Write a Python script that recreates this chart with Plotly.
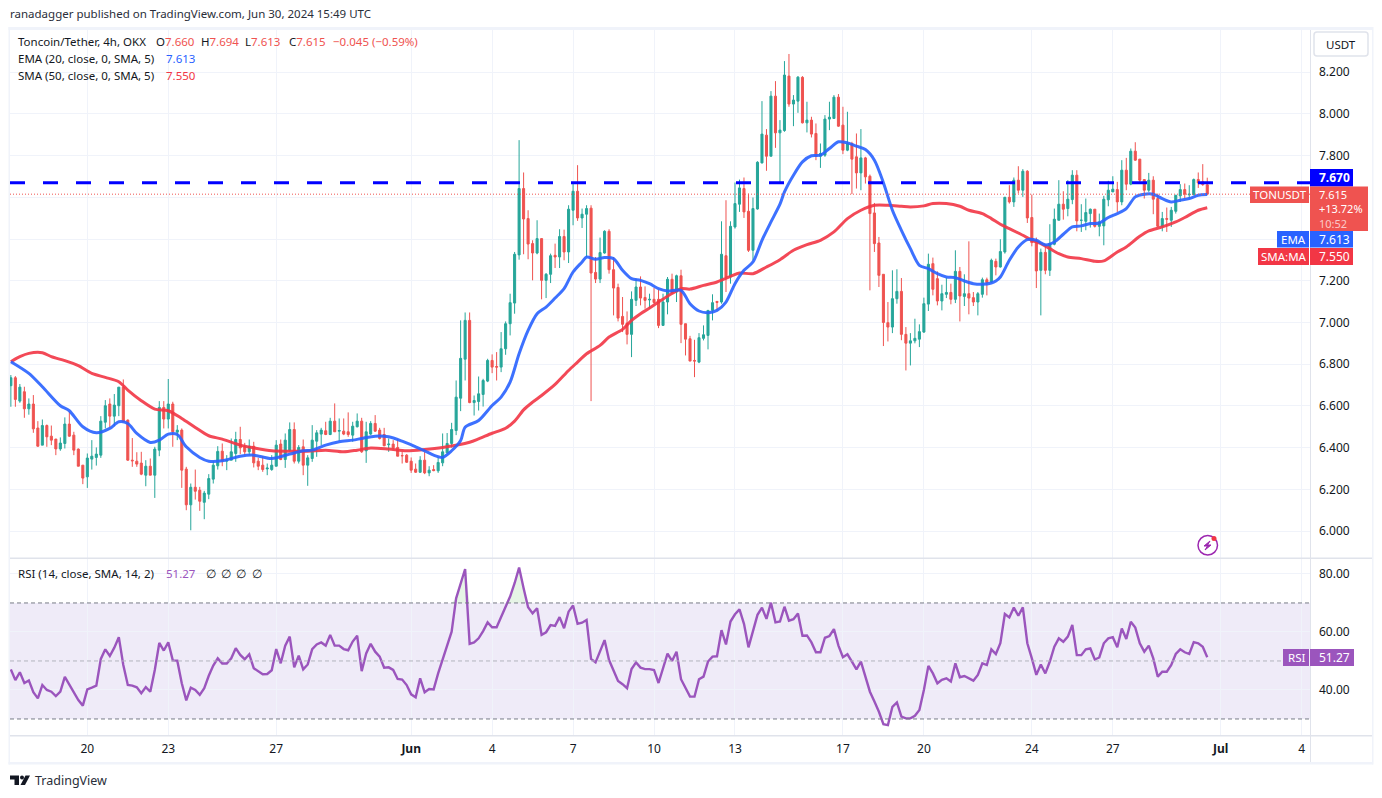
import numpy as np
import pandas as pd
import plotly.graph_objects as go

W, H = 1382, 798

# 4h candles
opens = [
    6.697, 6.735, 6.623, 6.668, 6.586, 6.609, 6.494, 6.412, 6.506, 6.455,
    6.441, 6.394, 6.420, 6.513, 6.460, 6.393, 6.316, 6.260, 6.345, 6.353,
    6.364, 6.522, 6.609, 6.551, 6.601, 6.690, 6.532, 6.340, 6.335, 6.326,
    6.268, 6.311, 6.268, 6.388, 6.593, 6.537, 6.609, 6.474, 6.484, 6.297,
    6.126, 6.210, 6.196, 6.138, 6.177, 6.249, 6.313, 6.383, 6.335, 6.340,
    6.372, 6.439, 6.404, 6.380, 6.407, 6.335, 6.316, 6.298, 6.295, 6.311,
    6.417, 6.343, 6.388, 6.487, 6.335, 6.404, 6.316, 6.348, 6.431, 6.465,
    6.481, 6.463, 6.527, 6.479, 6.479, 6.476, 6.460, 6.500, 6.527, 6.385,
    6.465, 6.516, 6.484, 6.463, 6.414, 6.417, 6.401, 6.362, 6.364, 6.335,
    6.297, 6.282, 6.340, 6.279, 6.295, 6.289, 6.327, 6.375, 6.420, 6.482,
    6.637, 6.824, 7.010, 6.616, 6.621, 6.655, 6.719, 6.818, 6.789, 6.786,
    6.874, 6.994, 7.093, 7.324, 7.642, 7.498, 7.378, 7.333, 7.402, 7.202,
    7.231, 7.322, 7.314, 7.412, 7.338, 7.538, 7.629, 7.501, 7.519, 7.548,
    7.240, 7.208, 7.333, 7.437, 7.253, 7.168, 7.029, 6.997, 6.943, 7.106,
    7.170, 7.120, 7.108, 7.111, 7.111, 6.986, 7.098, 7.207, 7.146, 7.224,
    6.994, 6.922, 6.818, 6.810, 6.924, 6.938, 7.058, 7.101, 7.098, 7.320,
    7.218, 7.458, 7.567, 7.642, 7.533, 7.346, 7.544, 7.765, 7.898, 7.797,
    8.085, 7.909, 7.920, 8.181, 8.047, 8.061, 8.175, 7.957, 7.970, 7.906,
    7.797, 7.802, 7.975, 7.978, 8.080, 7.946, 7.826, 7.858, 7.794, 7.717,
    7.789, 7.701, 7.525, 7.381, 7.231, 6.999, 6.978, 7.114, 7.149, 6.943,
    6.901, 6.912, 6.920, 6.954, 7.088, 7.282, 7.210, 7.103, 7.135, 7.144,
    7.111, 7.245, 7.125, 7.138, 7.119, 7.098, 7.135, 7.205, 7.194, 7.293,
    7.266, 7.338, 7.600, 7.578, 7.682, 7.634, 7.725, 7.503, 7.389, 7.250,
    7.336, 7.250, 7.375, 7.490, 7.567, 7.546, 7.589, 7.706, 7.490, 7.485,
    7.522, 7.543, 7.461, 7.463, 7.588, 7.626, 7.637, 7.578, 7.730, 7.663,
    7.821, 7.783, 7.685, 7.634, 7.682, 7.594, 7.461, 7.498, 7.490, 7.533,
    7.607, 7.637, 7.612, 7.613, 7.685, 7.674, 7.660,
]
highs = [
    6.748, 6.743, 6.705, 6.692, 6.636, 6.652, 6.527, 6.535, 6.511, 6.506,
    6.442, 6.449, 6.545, 6.572, 6.476, 6.396, 6.316, 6.372, 6.436, 6.401,
    6.551, 6.628, 6.636, 6.657, 6.690, 6.727, 6.535, 6.446, 6.378, 6.380,
    6.340, 6.348, 6.404, 6.623, 6.623, 6.729, 6.620, 6.508, 6.492, 6.308,
    6.228, 6.295, 6.212, 6.193, 6.273, 6.335, 6.407, 6.420, 6.364, 6.444,
    6.476, 6.500, 6.423, 6.439, 6.428, 6.351, 6.359, 6.324, 6.364, 6.436,
    6.439, 6.468, 6.521, 6.521, 6.412, 6.439, 6.364, 6.508, 6.484, 6.495,
    6.524, 6.543, 6.612, 6.540, 6.540, 6.569, 6.524, 6.564, 6.543, 6.524,
    6.527, 6.556, 6.495, 6.495, 6.444, 6.436, 6.441, 6.380, 6.369, 6.353,
    6.324, 6.359, 6.380, 6.311, 6.316, 6.353, 6.468, 6.470, 6.519, 6.722,
    7.010, 7.048, 7.048, 6.650, 6.741, 6.730, 6.826, 6.847, 6.858, 6.954,
    7.005, 7.138, 7.338, 7.874, 7.719, 7.538, 7.394, 7.490, 7.402, 7.237,
    7.330, 7.378, 7.447, 7.445, 7.562, 7.666, 7.754, 7.546, 7.562, 7.562,
    7.314, 7.407, 7.442, 7.447, 7.314, 7.186, 7.122, 7.053, 7.149, 7.210,
    7.221, 7.173, 7.138, 7.165, 7.157, 7.138, 7.218, 7.234, 7.229, 7.253,
    6.994, 6.936, 6.917, 6.949, 6.986, 7.058, 7.135, 7.103, 7.485, 7.586,
    7.485, 7.671, 7.685, 7.695, 7.618, 7.599, 7.773, 8.061, 7.927, 8.109,
    8.157, 7.970, 8.253, 8.287, 8.090, 8.181, 8.181, 8.058, 7.986, 7.954,
    7.858, 7.994, 8.058, 8.090, 8.095, 8.034, 8.010, 7.866, 7.906, 7.927,
    7.794, 7.709, 7.573, 7.410, 7.231, 7.098, 7.250, 7.255, 7.213, 6.978,
    6.949, 7.018, 6.991, 7.119, 7.330, 7.311, 7.245, 7.181, 7.215, 7.186,
    7.346, 7.266, 7.231, 7.389, 7.146, 7.146, 7.215, 7.215, 7.306, 7.306,
    7.399, 7.602, 7.658, 7.695, 7.749, 7.735, 7.730, 7.613, 7.407, 7.354,
    7.367, 7.471, 7.546, 7.682, 7.629, 7.682, 7.730, 7.730, 7.567, 7.594,
    7.546, 7.543, 7.522, 7.607, 7.679, 7.701, 7.674, 7.778, 7.789, 7.834,
    7.864, 7.783, 7.685, 7.717, 7.701, 7.618, 7.530, 7.551, 7.554, 7.610,
    7.663, 7.666, 7.658, 7.690, 7.719, 7.759, 7.694,
]
lows = [
    6.596, 6.596, 6.615, 6.543, 6.558, 6.471, 6.404, 6.412, 6.404, 6.412,
    6.364, 6.385, 6.396, 6.452, 6.364, 6.311, 6.225, 6.207, 6.295, 6.314,
    6.351, 6.492, 6.497, 6.503, 6.551, 6.524, 6.337, 6.308, 6.308, 6.268,
    6.215, 6.268, 6.159, 6.359, 6.492, 6.492, 6.404, 6.436, 6.207, 6.100,
    6.004, 6.151, 6.097, 6.057, 6.153, 6.228, 6.295, 6.311, 6.292, 6.340,
    6.332, 6.369, 6.364, 6.364, 6.305, 6.292, 6.284, 6.268, 6.289, 6.311,
    6.340, 6.303, 6.380, 6.324, 6.324, 6.268, 6.217, 6.332, 6.356, 6.412,
    6.460, 6.460, 6.476, 6.431, 6.460, 6.452, 6.428, 6.497, 6.375, 6.327,
    6.460, 6.476, 6.439, 6.407, 6.380, 6.391, 6.359, 6.324, 6.327, 6.279,
    6.279, 6.279, 6.273, 6.263, 6.287, 6.279, 6.311, 6.372, 6.400, 6.460,
    6.575, 6.722, 6.613, 6.554, 6.578, 6.597, 6.714, 6.757, 6.722, 6.762,
    6.845, 6.938, 7.042, 7.301, 7.327, 7.303, 7.202, 7.327, 7.111, 7.117,
    7.189, 7.261, 7.261, 7.298, 7.285, 7.466, 7.487, 7.453, 7.314, 6.623,
    7.189, 7.189, 7.330, 7.234, 7.034, 7.005, 6.954, 6.895, 6.834, 7.079,
    7.082, 7.066, 7.066, 7.090, 6.973, 6.986, 7.039, 7.138, 7.098, 6.901,
    6.842, 6.815, 6.738, 6.805, 6.914, 6.871, 7.010, 7.058, 7.090, 7.146,
    7.186, 7.450, 7.530, 7.501, 7.338, 7.298, 7.541, 7.762, 7.727, 7.797,
    7.837, 7.666, 7.914, 8.034, 7.941, 8.005, 7.954, 7.911, 7.887, 7.778,
    7.741, 7.794, 7.922, 7.978, 7.938, 7.807, 7.821, 7.615, 7.642, 7.634,
    7.666, 7.154, 7.338, 7.170, 6.887, 6.909, 6.949, 7.090, 6.915, 6.770,
    6.794, 6.900, 6.882, 6.950, 7.055, 7.130, 7.082, 7.058, 7.117, 7.087,
    7.093, 7.005, 7.079, 7.039, 7.079, 7.034, 7.119, 7.130, 7.189, 7.226,
    7.263, 7.330, 7.570, 7.554, 7.618, 7.602, 7.477, 7.365, 7.165, 7.034,
    7.231, 7.223, 7.370, 7.490, 7.493, 7.509, 7.567, 7.437, 7.434, 7.442,
    7.455, 7.455, 7.413, 7.370, 7.557, 7.626, 7.530, 7.562, 7.634, 7.658,
    7.775, 7.674, 7.594, 7.626, 7.519, 7.458, 7.437, 7.434, 7.458, 7.522,
    7.578, 7.594, 7.594, 7.610, 7.645, 7.655, 7.613,
]
closes = [
    6.735, 6.631, 6.690, 6.586, 6.609, 6.490, 6.407, 6.506, 6.452, 6.436,
    6.394, 6.422, 6.513, 6.455, 6.388, 6.311, 6.254, 6.350, 6.359, 6.369,
    6.527, 6.601, 6.551, 6.604, 6.690, 6.524, 6.340, 6.337, 6.321, 6.273,
    6.311, 6.268, 6.393, 6.593, 6.537, 6.609, 6.476, 6.484, 6.292, 6.126,
    6.210, 6.191, 6.143, 6.182, 6.252, 6.316, 6.382, 6.337, 6.339, 6.380,
    6.439, 6.399, 6.380, 6.407, 6.327, 6.311, 6.295, 6.302, 6.316, 6.412,
    6.343, 6.436, 6.487, 6.335, 6.401, 6.316, 6.351, 6.436, 6.471, 6.484,
    6.463, 6.527, 6.476, 6.482, 6.465, 6.463, 6.503, 6.527, 6.380, 6.476,
    6.516, 6.479, 6.444, 6.409, 6.417, 6.399, 6.359, 6.361, 6.330, 6.292,
    6.282, 6.340, 6.279, 6.292, 6.290, 6.329, 6.380, 6.420, 6.487, 6.642,
    6.828, 7.010, 6.616, 6.626, 6.658, 6.722, 6.818, 6.786, 6.786, 6.874,
    6.994, 7.095, 7.327, 7.642, 7.496, 7.376, 7.333, 7.402, 7.202, 7.231,
    7.320, 7.314, 7.412, 7.338, 7.543, 7.629, 7.501, 7.519, 7.546, 7.237,
    7.208, 7.335, 7.437, 7.253, 7.165, 7.021, 6.991, 6.943, 7.111, 7.170,
    7.117, 7.106, 7.111, 7.096, 6.986, 7.098, 7.207, 7.143, 7.224, 6.991,
    6.920, 6.815, 6.815, 6.927, 6.941, 7.058, 7.095, 7.096, 7.327, 7.218,
    7.461, 7.570, 7.645, 7.530, 7.346, 7.546, 7.768, 7.903, 7.797, 8.085,
    7.909, 7.922, 8.186, 8.047, 8.066, 8.176, 7.957, 7.970, 7.903, 7.797,
    7.810, 7.975, 7.984, 8.080, 7.941, 7.826, 7.858, 7.783, 7.717, 7.789,
    7.698, 7.522, 7.378, 7.226, 7.000, 6.978, 7.114, 7.149, 6.943, 6.901,
    6.912, 6.924, 6.956, 7.090, 7.279, 7.159, 7.103, 7.138, 7.144, 7.111,
    7.245, 7.127, 7.138, 7.117, 7.098, 7.138, 7.205, 7.191, 7.298, 7.266,
    7.340, 7.600, 7.578, 7.682, 7.634, 7.725, 7.501, 7.383, 7.247, 7.336,
    7.250, 7.378, 7.495, 7.567, 7.543, 7.591, 7.706, 7.487, 7.490, 7.527,
    7.543, 7.461, 7.482, 7.591, 7.634, 7.639, 7.578, 7.730, 7.663, 7.821,
    7.778, 7.682, 7.634, 7.682, 7.591, 7.461, 7.498, 7.495, 7.538, 7.610,
    7.637, 7.615, 7.615, 7.685, 7.669, 7.661, 7.615,
]
rsi = [
    47.1, 43.4, 46.1, 42.4, 43.3, 39.2, 37.1, 41.7, 40.0, 39.4,
    37.9, 39.4, 44.5, 41.7, 39.4, 36.5, 34.6, 40.2, 40.8, 41.5,
    50.7, 54.0, 51.7, 54.6, 58.2, 48.6, 41.7, 41.5, 40.9, 38.9,
    41.0, 39.4, 46.9, 56.2, 53.6, 56.4, 50.2, 50.1, 42.3, 36.4,
    40.8, 40.0, 38.3, 40.6, 44.9, 48.4, 50.9, 49.1, 49.1, 50.9,
    54.4, 52.1, 50.6, 52.3, 47.5, 46.3, 45.4, 45.5, 46.8, 54.1,
    49.2, 55.3, 58.4, 47.8, 51.8, 47.1, 48.8, 54.1, 55.7, 56.4,
    55.3, 59.0, 55.3, 55.3, 54.1, 53.7, 56.7, 58.7, 46.5, 52.6,
    55.9, 53.2, 51.5, 47.7, 47.8, 46.9, 43.8, 43.6, 41.7, 38.5,
    37.5, 44.0, 39.2, 40.3, 40.2, 45.7, 50.3, 54.9, 60.1, 71.6,
    77.1, 81.7, 55.9, 56.4, 57.8, 60.3, 63.3, 61.6, 61.6, 65.3,
    68.7, 72.2, 76.8, 82.2, 75.1, 68.5, 66.4, 68.2, 59.0, 59.9,
    62.4, 62.1, 65.1, 61.3, 67.0, 69.1, 62.8, 63.2, 64.1, 50.7,
    49.5, 53.6, 57.2, 50.3, 46.9, 43.1, 42.0, 40.6, 47.2, 49.5,
    47.7, 47.2, 47.2, 46.9, 42.4, 47.5, 52.5, 50.0, 53.2, 43.7,
    40.8, 37.7, 37.7, 43.7, 44.6, 49.8, 51.5, 51.6, 60.6, 55.7,
    63.6, 66.1, 67.8, 62.8, 54.7, 60.1, 65.9, 68.4, 64.5, 70.1,
    63.3, 63.6, 68.7, 63.9, 64.4, 66.4, 58.7, 58.8, 56.4, 53.0,
    53.0, 58.0, 58.6, 61.0, 55.3, 51.3, 52.3, 49.8, 47.1, 49.8,
    44.6, 39.4, 36.0, 32.5, 28.2, 27.9, 34.2, 35.7, 30.8, 30.2,
    30.2, 31.1, 33.1, 40.0, 48.3, 45.7, 42.3, 43.5, 44.0, 42.9,
    49.2, 44.4, 44.8, 44.0, 43.2, 45.2, 49.2, 48.6, 54.0, 52.4,
    56.1, 66.2, 65.0, 68.4, 65.6, 68.5, 56.1, 50.9, 45.2, 48.8,
    45.7, 49.8, 54.9, 57.8, 56.6, 58.4, 62.4, 52.0, 52.0, 54.0,
    54.3, 50.5, 51.2, 56.1, 57.8, 58.2, 54.7, 61.2, 57.6, 63.5,
    61.5, 56.1, 53.2, 55.3, 50.9, 44.6, 46.3, 46.3, 48.6, 52.4,
    54.0, 53.0, 52.4, 56.5, 56.1, 54.9, 51.27,
]

# moving averages, read at every few bars (bar number, value)
ema_bars = [
    0, 4, 7, 11, 13, 16, 19, 22, 24, 26, 28, 31, 33, 35, 37, 39, 42, 44, 47,
    51, 54, 58, 62, 65, 67, 70, 73, 76, 78, 81, 84, 87, 90, 92, 94, 96, 98,
    100, 101, 104, 107, 109, 111, 113, 115, 117, 119, 121, 123, 125, 127, 128,
    130, 132, 134, 136, 138, 140, 142, 144, 146, 149, 151, 153, 155, 157, 159,
    161, 163, 165, 167, 169, 171, 172, 174, 176, 178, 180, 182, 184, 186, 188,
    190, 192, 194, 196, 198, 200, 202, 204, 206, 208, 210, 212, 214, 216, 218,
    219, 220, 222, 224, 226, 228, 230, 232, 234, 236, 238, 240, 242, 244, 246,
    248, 250, 252, 254, 256, 258, 260, 262, 264, 266,
]
ema_vals = [
    6.812, 6.756, 6.692, 6.601, 6.577, 6.500, 6.471, 6.492, 6.524, 6.516, 6.468,
    6.425, 6.436, 6.465, 6.463, 6.404, 6.353, 6.335, 6.337, 6.359, 6.364, 6.348,
    6.369, 6.385, 6.388, 6.412, 6.428, 6.436, 6.444, 6.455, 6.452, 6.431, 6.404,
    6.385, 6.364, 6.353, 6.385, 6.434, 6.498, 6.530, 6.602, 6.642, 6.714, 6.850,
    6.962, 7.042, 7.074, 7.117, 7.162, 7.242, 7.290, 7.314, 7.303, 7.311, 7.306,
    7.250, 7.210, 7.202, 7.186, 7.162, 7.151, 7.154, 7.090, 7.055, 7.047, 7.058,
    7.098, 7.186, 7.250, 7.290, 7.394, 7.482, 7.567, 7.626, 7.706, 7.770, 7.799,
    7.802, 7.834, 7.866, 7.861, 7.845, 7.829, 7.778, 7.670, 7.538, 7.442, 7.354,
    7.274, 7.258, 7.234, 7.218, 7.215, 7.199, 7.186, 7.183, 7.189, 7.199, 7.218,
    7.298, 7.362, 7.397, 7.394, 7.372, 7.386, 7.423, 7.458, 7.463, 7.474, 7.477,
    7.503, 7.522, 7.546, 7.602, 7.615, 7.615, 7.594, 7.578, 7.586, 7.594, 7.610,
    7.613,
]
sma_bars = [
    0, 2, 4, 7, 9, 12, 15, 18, 21, 24, 26, 29, 32, 35, 38, 41, 44, 47, 51, 54,
    58, 62, 66, 70, 74, 77, 80, 84, 88, 92, 96, 102, 104, 107, 110, 112, 114,
    116, 118, 121, 124, 126, 128, 131, 133, 136, 138, 140, 142, 144, 146, 149,
    151, 154, 157, 160, 162, 165, 168, 171, 174, 177, 180, 183, 186, 189, 192,
    195, 198, 200, 203, 205, 208, 211, 213, 216, 218, 220, 222, 225, 227, 229,
    231, 233, 235, 238, 241, 243, 246, 248, 251, 253, 256, 259, 261, 264, 266,
]
sma_vals = [
    6.812, 6.836, 6.852, 6.855, 6.836, 6.817, 6.793, 6.756, 6.737, 6.716, 6.676,
    6.625, 6.585, 6.577, 6.540, 6.497, 6.457, 6.441, 6.412, 6.399, 6.385, 6.383,
    6.383, 6.388, 6.380, 6.388, 6.398, 6.393, 6.385, 6.391, 6.401, 6.426, 6.442,
    6.469, 6.493, 6.527, 6.581, 6.618, 6.650, 6.703, 6.770, 6.810, 6.850, 6.890,
    6.930, 6.967, 7.010, 7.042, 7.069, 7.098, 7.126, 7.162, 7.160, 7.178, 7.194,
    7.221, 7.237, 7.234, 7.266, 7.301, 7.346, 7.373, 7.394, 7.434, 7.498, 7.538,
    7.562, 7.562, 7.557, 7.554, 7.559, 7.570, 7.570, 7.557, 7.538, 7.522, 7.498,
    7.471, 7.450, 7.418, 7.394, 7.378, 7.354, 7.330, 7.314, 7.306, 7.293, 7.295,
    7.338, 7.362, 7.413, 7.439, 7.458, 7.482, 7.503, 7.538, 7.550,
]

resistance = 7.670
last_price = 7.615
rsi_upper, rsi_mid, rsi_lower = 70, 50, 30

price_ticks = [6.0, 6.2, 6.4, 6.6, 6.8, 7.0, 7.2, 7.4, 7.6, 7.8, 8.0, 8.2]
price_labels = ["6.000", "6.200", "6.400", "6.600", "6.800", "7.000", "7.200", "", "", "7.800", "8.000", "8.200"]
rsi_ticks = [40, 60, 80]
rsi_labels = ["40.00", "60.00", "80.00"]
date_ticks = ["2024-05-20", "2024-05-23", "2024-05-27", "2024-06-01", "2024-06-04", "2024-06-07", "2024-06-10",
              "2024-06-13", "2024-06-17", "2024-06-20", "2024-06-24", "2024-06-27", "2024-07-01", "2024-07-04"]
date_labels = ["20", "23", "27", "<b>Jun</b>", "4", "7", "10", "13", "17", "20", "24", "27", "<b>Jul</b>", "4"]

FONT = "Noto Sans"
TEXT = "#131722"
GRID = "#f0f3fa"
BORDER = "#e0e3eb"
UP, DOWN = "#26a69a", "#ef5350"
EMA_C, SMA_C, RSI_C = "#2962ff", "#f23645", "#9b55bd"

times = pd.date_range("2024-05-17 04:00", periods=len(closes), freq="4h")


def px(x):
    return x / W


def py(y):
    return 1 - y / H


fig = go.Figure()
fig.add_trace(go.Candlestick(x=times, open=opens, high=highs, low=lows, close=closes,
                             increasing=dict(line=dict(color=UP, width=1), fillcolor=UP),
                             decreasing=dict(line=dict(color=DOWN, width=1), fillcolor=DOWN),
                             whiskerwidth=0, hoverinfo="skip"))
fig.add_trace(go.Scatter(x=times[sma_bars], y=sma_vals, mode="lines", hoverinfo="skip",
                         line=dict(color=SMA_C, width=3, shape="spline", smoothing=0.8), opacity=0.9))
fig.add_trace(go.Scatter(x=times[ema_bars], y=ema_vals, mode="lines", hoverinfo="skip",
                         line=dict(color=EMA_C, width=3, shape="spline", smoothing=0.8), opacity=0.9))

# overbought tint under the rsi peaks
fig.add_trace(go.Scatter(x=times, y=[rsi_upper] * len(rsi), mode="lines", line=dict(width=0), xaxis="x2", yaxis="y2",
                         hoverinfo="skip"))
fig.add_trace(go.Scatter(x=times, y=np.maximum(rsi, rsi_upper), mode="lines", line=dict(width=0), fill="tonexty",
                         fillcolor="rgba(76,175,80,0.14)", xaxis="x2", yaxis="y2", hoverinfo="skip"))
fig.add_trace(go.Scatter(x=times, y=rsi, mode="lines", line=dict(color=RSI_C, width=2.4), xaxis="x2", yaxis="y2",
                         hoverinfo="skip"))

shapes = [
    dict(type="rect", xref="paper", yref="y2", x0=px(10), x1=px(1310), y0=rsi_lower, y1=rsi_upper,
         fillcolor="rgba(126,87,194,0.12)", line_width=0, layer="below"),
    dict(type="line", xref="paper", yref="y2", x0=px(10), x1=px(1310), y0=rsi_upper, y1=rsi_upper,
         line=dict(color="#787b86", width=1, dash="4px,3px")),
    dict(type="line", xref="paper", yref="y2", x0=px(10), x1=px(1310), y0=rsi_lower, y1=rsi_lower,
         line=dict(color="#787b86", width=1, dash="4px,3px")),
    dict(type="line", xref="paper", yref="y2", x0=px(10), x1=px(1310), y0=rsi_mid, y1=rsi_mid,
         line=dict(color="#b2b5be", width=1, dash="4px,3px")),
    dict(type="line", xref="paper", yref="y", x0=px(10), x1=px(1310), y0=last_price, y1=last_price,
         line=dict(color=DOWN, width=1, dash="1px,2px")),
    dict(type="line", xref="paper", yref="y", x0=px(10), x1=px(1310), y0=resistance, y1=resistance,
         line=dict(color="#0000ff", width=3, dash="15px,18px")),
]


def frame_rect(x0, y0, x1, y1, fill, line=None):
    shapes.append(dict(type="rect", xref="paper", yref="paper", x0=px(x0), x1=px(x1), y0=py(y1), y1=py(y0),
                       fillcolor=fill, line=dict(color=line or fill, width=1 if line else 0)))


# panel frame and separators
for box in [(8.5, 27, 1373, 30), (8.5, 762, 1373, 764.5), (8.5, 27, 10, 764.5), (1372, 27, 1373.5, 764.5)]:
    frame_rect(*box, GRID)
for box in [(10, 557.5, 1372, 559), (10, 735, 1372, 736.5), (1310, 30, 1311, 762)]:
    frame_rect(*box, BORDER)

# price scale tags
frame_rect(1310, 169, 1353, 186.5, "#0000ff")
frame_rect(1250, 186.5, 1309, 203, DOWN)
frame_rect(1310, 186.5, 1368, 231, DOWN)
frame_rect(1277, 231, 1309, 247.5, EMA_C)
frame_rect(1310, 231, 1353, 247.5, EMA_C)
frame_rect(1258, 248, 1309, 265, SMA_C)
frame_rect(1310, 248, 1353, 265, SMA_C)
frame_rect(1283, 649, 1309, 666, RSI_C)
frame_rect(1310, 649, 1354, 666, RSI_C)

# USDT button
shapes.append(dict(type="path", xref="paper", yref="paper", line=dict(color=BORDER, width=1.5), fillcolor="white",
                   path=f"M{px(1317)},{py(32)} L{px(1365)},{py(32)} Q{px(1368)},{py(32)} {px(1368)},{py(35)} "
                        f"L{px(1368)},{py(53)} Q{px(1368)},{py(56)} {px(1365)},{py(56)} L{px(1317)},{py(56)} "
                        f"Q{px(1314)},{py(56)} {px(1314)},{py(53)} L{px(1314)},{py(35)} Q{px(1314)},{py(32)} {px(1317)},{py(32)} Z"))

# flash icon
shapes.append(dict(type="circle", xref="paper", yref="paper", x0=px(1198), x1=px(1217.5), y0=py(555), y1=py(535.5),
                   line=dict(color="#9c27b0", width=1.5), fillcolor="white"))
shapes.append(dict(type="path", xref="paper", yref="paper", line=dict(color="#9c27b0", width=1), fillcolor="#9c27b0",
                   path=f"M{px(1210)},{py(541)} L{px(1204)},{py(546)} L{px(1207.5)},{py(546)} L{px(1205)},{py(550)} "
                        f"L{px(1211)},{py(545)} L{px(1207.5)},{py(545)} Z"))
shapes.append(dict(type="circle", xref="paper", yref="paper", x0=px(1211.5), x1=px(1216.5), y0=py(541), y1=py(536),
                   fillcolor="#f23645", line_width=0))

# tradingview logo
shapes.append(dict(type="path", xref="paper", yref="paper", fillcolor="#131722", line_width=0,
                   path=f"M{px(10)},{py(775.5)} L{px(19)},{py(775.5)} L{px(19)},{py(785)} L{px(14.5)},{py(785)} "
                        f"L{px(14.5)},{py(779.5)} L{px(10)},{py(779.5)} Z"))
shapes.append(dict(type="path", xref="paper", yref="paper", fillcolor="#131722", line_width=0,
                   path=f"M{px(25.5)},{py(775.5)} L{px(30)},{py(775.5)} L{px(25)},{py(785)} L{px(20.5)},{py(785)} Z"))
shapes.append(dict(type="circle", xref="paper", yref="paper", x0=px(20), x1=px(24), y0=py(779.5), y1=py(775.5),
                   fillcolor="#131722", line_width=0))


def label(x, y, text, size=12, color=TEXT, anchor="left", font=FONT):
    return dict(xref="paper", yref="paper", x=px(x), y=py(y), text=text, showarrow=False, xanchor=anchor, align=anchor,
                yanchor="middle", font=dict(family=font, size=size, color=color), borderpad=0, borderwidth=0)


def red(s):
    return f'<span style="color:{DOWN}">{s}</span>'


annotations = [
    label(10, 13.5, "ranadagger published on TradingView.com, Jun 30, 2024 15:49 UTC", size=11.5, color="#2a2e39"),
    label(18, 41.5, "Toncoin/Tether, 4h, OKX", size=11.5),
    label(156, 41.5, "O" + red("7.660"), size=11.5),
    label(201, 41.5, "H" + red("7.694"), size=11.5),
    label(245, 41.5, "L" + red("7.613"), size=11.5),
    label(289, 41.5, "C" + red("7.615"), size=11.5),
    label(333, 41.5, red("−0.045 (−0.59%)"), size=11.5),
    label(18, 58.5, "EMA (20, close, 0, SMA, 5)", size=11.5),
    label(166, 58.5, "7.613", size=11.5, color=EMA_C),
    label(18, 75.5, "SMA (50, close, 0, SMA, 5)", size=11.5),
    label(166, 75.5, "7.550", size=11.5, color=SMA_C),
    label(18, 573.5, "RSI (14, close, SMA, 14, 2)", size=11.5),
    label(166, 573.5, "51.27", size=11.5, color=RSI_C),
    label(206, 573.5, "∅", size=11.5),
    label(221, 573.5, "∅", size=11.5),
    label(236, 573.5, "∅", size=11.5),
    label(252, 573.5, "∅", size=11.5),
    label(1341, 44.5, "USDT", size=11.5, anchor="center"),
    label(1319, 177.5, "<b>7.670</b>", color="white"),
    label(1279.5, 194.5, "TONUSDT", size=11.5, color="white", anchor="center"),
    label(1319, 209, '7.615<br>+13.72%<br><span style="color:rgba(255,255,255,0.7)">10:52</span>', size=11, color="white"),
    label(1293, 239, "EMA", size=11.5, color="white", anchor="center"),
    label(1319, 239, "7.613", color="white"),
    label(1283.5, 256, "SMA:MA", size=11.5, color="white", anchor="center"),
    label(1319, 256, "7.550", color="white"),
    label(1296, 657, "RSI", size=11.5, color="white", anchor="center"),
    label(1319, 657, "51.27", color="white"),
    label(35, 780, "TradingView", size=12.5, color="#2a2e39"),
]

x_range = ["2024-05-17 03:14", "2024-07-04 07:23"]
grid_x = dict(type="date", range=x_range, tickmode="array", tickvals=date_ticks, ticktext=date_labels,
              showgrid=True, gridcolor=GRID, gridwidth=1, zeroline=False, showline=False, ticks="",
              rangeslider=dict(visible=False))

fig.update_layout(
    width=W, height=H, autosize=False, margin=dict(l=0, r=0, t=0, b=0), showlegend=False,
    paper_bgcolor="white", plot_bgcolor="white", boxgap=0.35, hovermode=False,
    font=dict(family=FONT, size=12, color=TEXT), shapes=shapes, annotations=annotations,
    xaxis=dict(domain=[px(10), px(1310)], anchor="y", showticklabels=False, **grid_x),
    xaxis2=dict(domain=[px(10), px(1310)], anchor="y2", matches="x", showticklabels=True,
                tickfont=dict(family=FONT, size=12, color=TEXT), ticklabelstandoff=4, **grid_x),
    yaxis=dict(domain=[py(558), py(30)], anchor="x", side="right", range=[5.871, 8.402], tickmode="array",
               tickvals=price_ticks, ticktext=price_labels, showgrid=True, gridcolor=GRID, zeroline=False,
               ticks="", tickfont=dict(family=FONT, size=12, color=TEXT), ticklabelstandoff=8),
    yaxis2=dict(domain=[py(735.5), py(558)], anchor="x2", side="right", range=[24.3, 85.5], tickmode="array",
                tickvals=rsi_ticks, ticktext=rsi_labels, showgrid=True, gridcolor=GRID, zeroline=False,
                ticks="", tickfont=dict(family=FONT, size=12, color=TEXT), ticklabelstandoff=8),
)

fig.write_html("out.html", config=dict(displayModeBar=False),
               post_script="document.body.style.margin='0';document.body.style.overflow='hidden';")
